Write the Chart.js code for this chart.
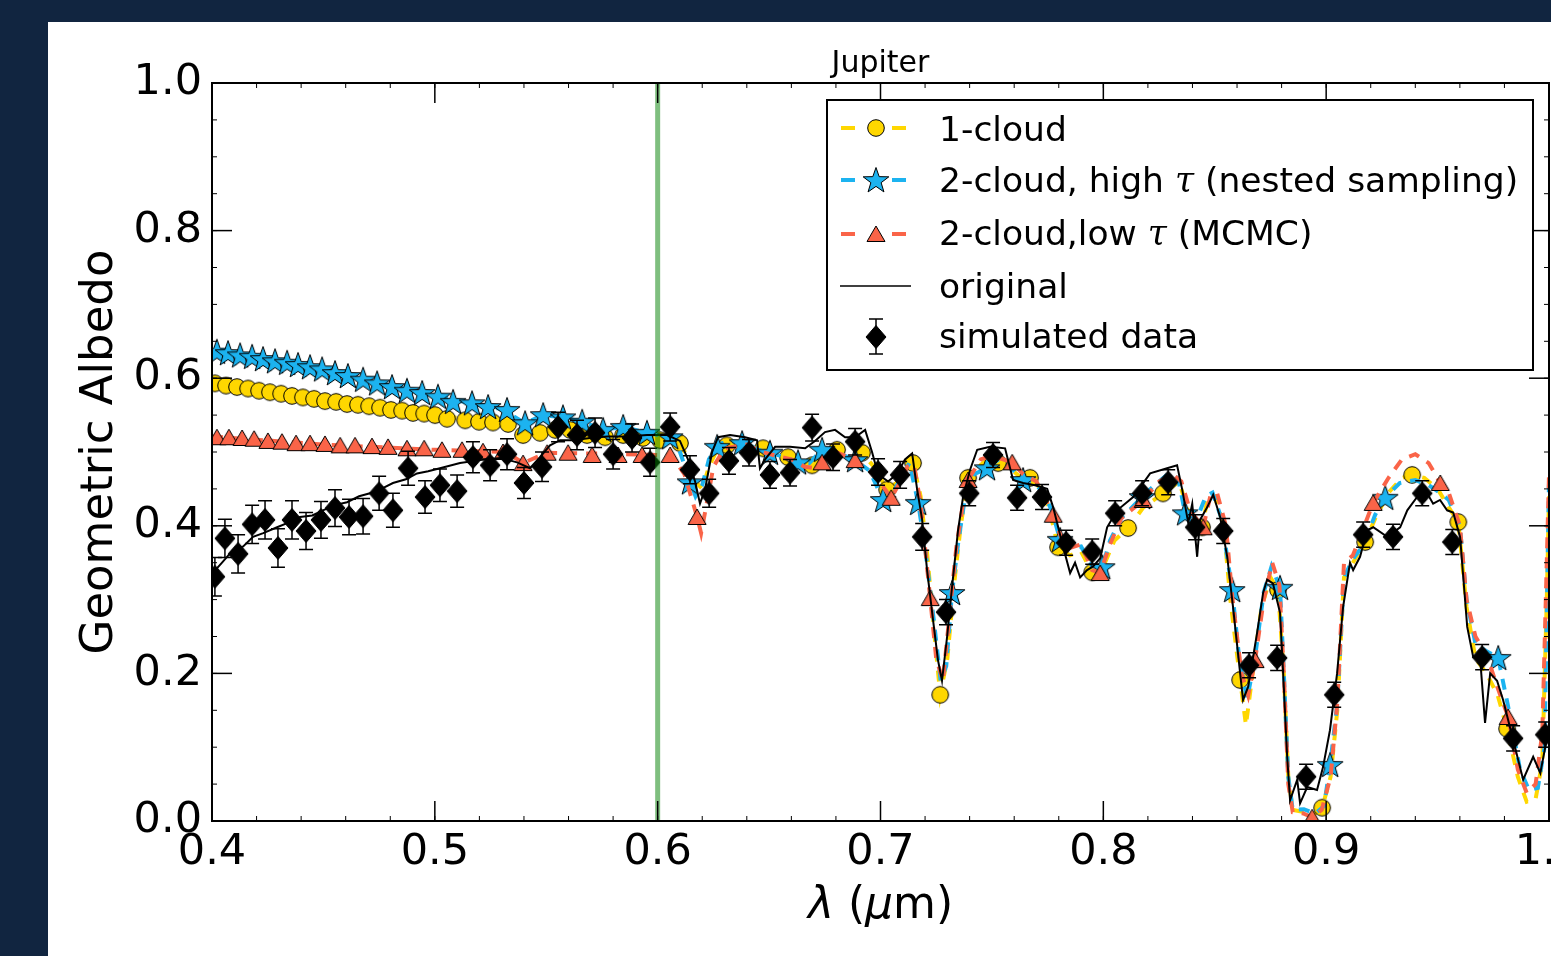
<!DOCTYPE html>
<html>
<head>
<meta charset="utf-8">
<title>Jupiter geometric albedo</title>
<script src="https://cdn.jsdelivr.net/npm/chart.js@4.4.1/dist/chart.umd.min.js"></script>
<style>
  html, body { margin: 0; padding: 0; background: #112540; overflow: hidden; }
  #panel { position: absolute; left: 48px; top: 22px; width: 1560px; height: 934px; background: #fff; }
  canvas { display: block; }
</style>
</head>
<body>
<div id="panel"><canvas id="albedoChart" width="1560" height="934"></canvas></div>
<script>
// ---- data ----------------------------------------------------------------
const xTickValues = [0.4, 0.5, 0.6, 0.7, 0.8, 0.9, 1.0];
const yTickValues = [0.0, 0.2, 0.4, 0.6, 0.8, 1.0];
const markerWave = 0.6;   // green reference line

// original high resolution spectrum [wavelength, albedo]
const originalSpectrum = [
  [0.4, 0.335], [0.4045, 0.35], [0.4094, 0.367], [0.414, 0.372], [0.4184, 0.385], [0.423, 0.39],
  [0.4292, 0.398], [0.434, 0.404], [0.4395, 0.412], [0.445, 0.414], [0.4498, 0.421], [0.455, 0.428],
  [0.4606, 0.432], [0.466, 0.44], [0.4709, 0.444], [0.476, 0.45], [0.4812, 0.458], [0.487, 0.463],
  [0.492, 0.471], [0.497, 0.474], [0.5023, 0.478], [0.5113, 0.485], [0.5203, 0.489], [0.5293, 0.492],
  [0.5369, 0.486], [0.5427, 0.478], [0.5472, 0.493], [0.5517, 0.509], [0.5562, 0.516], [0.562, 0.516],
  [0.5697, 0.519], [0.5773, 0.521], [0.5863, 0.521], [0.5952, 0.523], [0.6042, 0.523], [0.61, 0.515],
  [0.6136, 0.49], [0.6168, 0.46], [0.619, 0.43], [0.6213, 0.45], [0.6244, 0.5], [0.6271, 0.52],
  [0.6325, 0.523], [0.6392, 0.52], [0.6446, 0.516], [0.6459, 0.478], [0.6482, 0.49], [0.6527, 0.507],
  [0.6594, 0.507], [0.6662, 0.505], [0.6706, 0.515], [0.6751, 0.527], [0.6796, 0.53], [0.6841, 0.52],
  [0.6886, 0.52], [0.6931, 0.53], [0.6962, 0.5], [0.6989, 0.47], [0.7034, 0.46], [0.7074, 0.47],
  [0.711, 0.49], [0.7142, 0.498], [0.7164, 0.45], [0.7187, 0.408], [0.7209, 0.34], [0.7236, 0.272],
  [0.7258, 0.218], [0.7276, 0.19], [0.7299, 0.25], [0.7321, 0.317], [0.7348, 0.394], [0.7371, 0.44],
  [0.7402, 0.476], [0.7434, 0.503], [0.7492, 0.507], [0.7559, 0.505], [0.7595, 0.462], [0.764, 0.458],
  [0.7694, 0.455], [0.7748, 0.45], [0.7775, 0.425], [0.782, 0.371], [0.7851, 0.336], [0.7873, 0.35],
  [0.7896, 0.33], [0.7927, 0.34], [0.7954, 0.345], [0.7986, 0.356], [0.8017, 0.398], [0.8062, 0.421],
  [0.8134, 0.439], [0.821, 0.471], [0.8286, 0.478], [0.8331, 0.482], [0.8354, 0.449], [0.8381, 0.404],
  [0.8399, 0.43], [0.8421, 0.358], [0.8434, 0.408], [0.8466, 0.425], [0.8493, 0.442], [0.8524, 0.412],
  [0.8556, 0.358], [0.8582, 0.29], [0.8614, 0.2], [0.8627, 0.164], [0.865, 0.182], [0.869, 0.255],
  [0.8717, 0.309], [0.8735, 0.327], [0.8761, 0.322], [0.8793, 0.282], [0.8807, 0.2], [0.8825, 0.087],
  [0.8838, 0.028], [0.887, 0.056], [0.8883, 0.024], [0.8915, 0.046], [0.8959, 0.042], [0.8986, 0.073],
  [0.9017, 0.123], [0.9049, 0.2], [0.9076, 0.29], [0.9107, 0.35], [0.9121, 0.34], [0.9152, 0.358],
  [0.9184, 0.394], [0.9211, 0.398], [0.9274, 0.385], [0.9332, 0.398], [0.9364, 0.421], [0.9408, 0.439],
  [0.9453, 0.444], [0.948, 0.43], [0.9511, 0.435], [0.9543, 0.421], [0.957, 0.418], [0.9601, 0.385],
  [0.9633, 0.263], [0.966, 0.222], [0.9691, 0.22], [0.9713, 0.133], [0.9736, 0.2], [0.9767, 0.19],
  [0.9794, 0.164], [0.9839, 0.11], [0.9884, 0.056], [0.9929, 0.087], [0.9961, 0.065], [0.9992, 0.114]
];

// simulated observations [wavelength, albedo, 1-sigma error]
const simulatedData = [
  [0.4013, 0.331, 0.026], [0.4058, 0.383, 0.026], [0.4117, 0.362, 0.026], [0.418, 0.402, 0.026],
  [0.4238, 0.408, 0.026], [0.4296, 0.370, 0.026], [0.4359, 0.408, 0.026], [0.4422, 0.393, 0.025],
  [0.4489, 0.408, 0.025], [0.4552, 0.424, 0.025], [0.4615, 0.412, 0.024], [0.4678, 0.413, 0.024],
  [0.475, 0.444, 0.023], [0.4812, 0.421, 0.023], [0.488, 0.478, 0.023], [0.4956, 0.439, 0.022],
  [0.5023, 0.455, 0.022], [0.51, 0.447, 0.022], [0.5171, 0.493, 0.021], [0.5248, 0.482, 0.021],
  [0.5324, 0.497, 0.021], [0.54, 0.458, 0.021], [0.5481, 0.48, 0.02], [0.5553, 0.534, 0.02],
  [0.5638, 0.523, 0.02], [0.5719, 0.526, 0.02], [0.58, 0.497, 0.02], [0.5885, 0.519, 0.019],
  [0.5966, 0.486, 0.019], [0.6056, 0.534, 0.019], [0.6145, 0.476, 0.019], [0.6231, 0.444, 0.019],
  [0.632, 0.488, 0.018], [0.641, 0.499, 0.018], [0.6504, 0.469, 0.018], [0.6594, 0.472, 0.018],
  [0.6693, 0.533, 0.018], [0.6787, 0.493, 0.018], [0.6886, 0.514, 0.018], [0.6989, 0.473, 0.018],
  [0.7088, 0.469, 0.018], [0.7187, 0.385, 0.018], [0.7294, 0.283, 0.017], [0.7398, 0.444, 0.017],
  [0.7505, 0.496, 0.017], [0.7613, 0.438, 0.017], [0.7725, 0.439, 0.017], [0.7833, 0.377, 0.017],
  [0.795, 0.365, 0.017], [0.8053, 0.417, 0.017], [0.8174, 0.444, 0.017], [0.8291, 0.459, 0.017],
  [0.8412, 0.398, 0.017], [0.8538, 0.393, 0.017], [0.8654, 0.211, 0.017], [0.878, 0.221, 0.017],
  [0.891, 0.06, 0.017], [0.9036, 0.171, 0.017], [0.9166, 0.388, 0.017], [0.93, 0.385, 0.017],
  [0.9431, 0.444, 0.017], [0.9566, 0.378, 0.017], [0.97, 0.222, 0.017], [0.9839, 0.112, 0.017],
  [0.9983, 0.117, 0.017]
];

// 1-cloud retrieval: model curve and its plotted points
const oneCloudLine = [
  [0.4, 0.594], [0.45, 0.571], [0.5, 0.55], [0.5329, 0.538], [0.5396, 0.523], [0.5472, 0.526],
  [0.5607, 0.53], [0.5683, 0.523], [0.5764, 0.52], [0.5845, 0.523], [0.5934, 0.519], [0.6011, 0.516],
  [0.61, 0.512], [0.614, 0.49], [0.617, 0.46], [0.62, 0.45], [0.623, 0.48], [0.627, 0.505],
  [0.6311, 0.509], [0.64, 0.508], [0.6473, 0.505], [0.653, 0.498], [0.6585, 0.493], [0.6693, 0.482],
  [0.675, 0.495], [0.6805, 0.503], [0.6917, 0.499], [0.697, 0.48], [0.703, 0.449], [0.708, 0.46],
  [0.712, 0.48], [0.7146, 0.485], [0.718, 0.44], [0.721, 0.36], [0.724, 0.26], [0.7268, 0.171],
  [0.73, 0.22], [0.733, 0.32], [0.736, 0.4], [0.7393, 0.465], [0.744, 0.48], [0.748, 0.49],
  [0.7528, 0.485], [0.758, 0.478], [0.762, 0.468], [0.7671, 0.465], [0.772, 0.45], [0.776, 0.42],
  [0.7797, 0.371], [0.785, 0.36], [0.79, 0.365], [0.795, 0.337], [0.8, 0.345], [0.805, 0.38],
  [0.8111, 0.397], [0.818, 0.425], [0.8268, 0.444], [0.834, 0.46], [0.838, 0.42], [0.8443, 0.398],
  [0.847, 0.44], [0.85, 0.44], [0.854, 0.4], [0.857, 0.3], [0.8614, 0.191], [0.864, 0.13],
  [0.867, 0.2], [0.871, 0.29], [0.875, 0.33], [0.8784, 0.313], [0.881, 0.2], [0.883, 0.06],
  [0.885, 0.015], [0.89, 0.012], [0.895, 0.01], [0.8982, 0.018], [0.902, 0.06], [0.905, 0.15],
  [0.908, 0.33], [0.912, 0.35], [0.9175, 0.378], [0.922, 0.41], [0.928, 0.445], [0.934, 0.465],
  [0.9386, 0.469], [0.944, 0.465], [0.95, 0.45], [0.955, 0.425], [0.9593, 0.405], [0.963, 0.29],
  [0.967, 0.22], [0.972, 0.2], [0.977, 0.17], [0.9812, 0.125], [0.986, 0.06], [0.99, 0.026],
  [0.994, 0.03], [0.997, 0.08], [0.999, 0.3], [1.0, 0.44]
];
const oneCloudPoints = [
  [0.4013, 0.593], [0.4063, 0.59], [0.4112, 0.588], [0.4162, 0.586], [0.4211, 0.583], [0.426, 0.581],
  [0.431, 0.579], [0.4359, 0.576], [0.4408, 0.574], [0.4458, 0.572], [0.4507, 0.569], [0.4557, 0.568],
  [0.4606, 0.565], [0.4655, 0.564], [0.4705, 0.562], [0.4754, 0.56], [0.4803, 0.557], [0.4853, 0.556],
  [0.4902, 0.553], [0.4952, 0.552], [0.5001, 0.55], [0.5055, 0.545], [0.5136, 0.543], [0.5198, 0.541],
  [0.5261, 0.54], [0.5329, 0.538], [0.5396, 0.523], [0.5472, 0.526], [0.554, 0.53], [0.5607, 0.53],
  [0.5683, 0.523], [0.5764, 0.52], [0.5845, 0.523], [0.5934, 0.519], [0.6011, 0.516], [0.61, 0.512],
  [0.6311, 0.509], [0.6473, 0.505], [0.6585, 0.493], [0.6693, 0.482], [0.6805, 0.503], [0.6917, 0.499],
  [0.703, 0.449], [0.7146, 0.485], [0.7268, 0.171], [0.7393, 0.465], [0.7528, 0.485], [0.7671, 0.465],
  [0.7797, 0.371], [0.795, 0.337], [0.8111, 0.397], [0.8268, 0.444], [0.8443, 0.398], [0.8614, 0.191],
  [0.8784, 0.313], [0.8982, 0.018], [0.9175, 0.378], [0.9386, 0.469], [0.9593, 0.405], [0.9812, 0.125]
];

// 2-cloud, high tau (nested sampling)
const highTauLine = [
  [0.4, 0.638], [0.45, 0.612], [0.5, 0.576], [0.53, 0.558], [0.5405, 0.539], [0.5486, 0.55],
  [0.5575, 0.547], [0.5661, 0.541], [0.5755, 0.53], [0.5845, 0.534], [0.5952, 0.526], [0.6056, 0.52],
  [0.61, 0.5], [0.614, 0.465], [0.617, 0.44], [0.62, 0.455], [0.623, 0.49], [0.627, 0.51],
  [0.632, 0.515], [0.64, 0.512], [0.645, 0.503], [0.6504, 0.499], [0.656, 0.494], [0.663, 0.486],
  [0.668, 0.485], [0.6738, 0.503], [0.68, 0.5], [0.6886, 0.489], [0.695, 0.475], [0.7012, 0.435],
  [0.705, 0.44], [0.709, 0.465], [0.713, 0.485], [0.7169, 0.431], [0.72, 0.37], [0.724, 0.27],
  [0.727, 0.19], [0.7295, 0.21], [0.7321, 0.309], [0.735, 0.38], [0.738, 0.44], [0.742, 0.47],
  [0.7478, 0.478], [0.753, 0.49], [0.758, 0.48], [0.764, 0.462], [0.769, 0.458], [0.773, 0.445],
  [0.777, 0.42], [0.7806, 0.381], [0.785, 0.37], [0.79, 0.372], [0.795, 0.345], [0.7995, 0.344],
  [0.803, 0.38], [0.808, 0.41], [0.8174, 0.439], [0.823, 0.455], [0.829, 0.47], [0.8335, 0.465],
  [0.8367, 0.417], [0.842, 0.41], [0.846, 0.44], [0.849, 0.445], [0.853, 0.41], [0.8578, 0.313],
  [0.861, 0.22], [0.8645, 0.165], [0.868, 0.22], [0.872, 0.31], [0.8755, 0.345], [0.8793, 0.316],
  [0.881, 0.2], [0.883, 0.06], [0.885, 0.015], [0.89, 0.016], [0.895, 0.01], [0.899, 0.02],
  [0.9018, 0.076], [0.905, 0.16], [0.908, 0.33], [0.912, 0.355], [0.917, 0.375], [0.922, 0.415],
  [0.9265, 0.438], [0.933, 0.458], [0.94, 0.462], [0.946, 0.455], [0.951, 0.445], [0.955, 0.435],
  [0.96, 0.4], [0.963, 0.3], [0.967, 0.24], [0.972, 0.23], [0.9772, 0.221], [0.982, 0.15],
  [0.987, 0.07], [0.991, 0.042], [0.995, 0.045], [0.998, 0.1], [1.0, 0.46]
];
const highTauPoints = [
  [0.4022, 0.636], [0.4072, 0.634], [0.4126, 0.631], [0.418, 0.629], [0.4229, 0.626], [0.4283, 0.623],
  [0.4337, 0.621], [0.4386, 0.618], [0.444, 0.615], [0.4494, 0.612], [0.4552, 0.607], [0.461, 0.603],
  [0.4678, 0.598], [0.4741, 0.593], [0.4808, 0.588], [0.4875, 0.583], [0.4943, 0.58], [0.5014, 0.575],
  [0.5082, 0.568], [0.5167, 0.566], [0.5239, 0.561], [0.5324, 0.557], [0.5405, 0.539], [0.5486, 0.55],
  [0.5575, 0.547], [0.5661, 0.541], [0.5755, 0.53], [0.5845, 0.534], [0.5952, 0.526], [0.6056, 0.52],
  [0.6145, 0.459], [0.6267, 0.507], [0.6379, 0.512], [0.6504, 0.499], [0.663, 0.486], [0.6738, 0.503],
  [0.6886, 0.489], [0.7012, 0.435], [0.7169, 0.431], [0.7321, 0.309], [0.7478, 0.478], [0.764, 0.462],
  [0.7806, 0.381], [0.7995, 0.344], [0.8174, 0.439], [0.8367, 0.417], [0.8578, 0.313], [0.8793, 0.316],
  [0.9018, 0.076], [0.9265, 0.438], [0.9772, 0.221]
];

// 2-cloud, low tau (MCMC)
const lowTauLine = [
  [0.4, 0.521], [0.45, 0.51], [0.5, 0.503], [0.532, 0.5], [0.5396, 0.485], [0.5504, 0.499],
  [0.57, 0.498], [0.6, 0.496], [0.606, 0.496], [0.612, 0.47], [0.6177, 0.412], [0.6195, 0.39],
  [0.622, 0.43], [0.625, 0.48], [0.63, 0.505], [0.64, 0.51], [0.647, 0.5], [0.653, 0.495],
  [0.66, 0.49], [0.666, 0.48], [0.671, 0.478], [0.6738, 0.486], [0.68, 0.5], [0.6886, 0.489],
  [0.697, 0.47], [0.7048, 0.438], [0.708, 0.455], [0.712, 0.48], [0.715, 0.483], [0.718, 0.43],
  [0.7223, 0.302], [0.725, 0.22], [0.728, 0.19], [0.731, 0.28], [0.734, 0.37], [0.737, 0.43],
  [0.7393, 0.462], [0.745, 0.49], [0.75, 0.495], [0.7591, 0.486], [0.764, 0.47], [0.77, 0.46],
  [0.7775, 0.415], [0.781, 0.385], [0.785, 0.37], [0.79, 0.375], [0.795, 0.34], [0.7986, 0.336],
  [0.803, 0.375], [0.808, 0.41], [0.8179, 0.435], [0.825, 0.46], [0.831, 0.47], [0.835, 0.46],
  [0.839, 0.42], [0.8448, 0.398], [0.848, 0.44], [0.851, 0.445], [0.855, 0.4], [0.858, 0.3],
  [0.862, 0.2], [0.865, 0.17], [0.8681, 0.218], [0.872, 0.3], [0.8758, 0.35], [0.879, 0.32],
  [0.881, 0.2], [0.883, 0.05], [0.885, 0.012], [0.89, 0.01], [0.8937, 0.005], [0.898, 0.015],
  [0.902, 0.06], [0.905, 0.16], [0.908, 0.35], [0.912, 0.36], [0.9211, 0.431], [0.928, 0.465],
  [0.934, 0.49], [0.94, 0.497], [0.946, 0.485], [0.9512, 0.458], [0.955, 0.445], [0.96, 0.4],
  [0.963, 0.3], [0.967, 0.25], [0.972, 0.225], [0.977, 0.18], [0.9817, 0.141], [0.986, 0.07],
  [0.99, 0.038], [0.994, 0.05], [0.997, 0.12], [0.999, 0.35], [1.0, 0.47]
];
const lowTauPoints = [
  [0.4022, 0.52], [0.4076, 0.52], [0.4135, 0.519], [0.4189, 0.518], [0.4251, 0.515], [0.4314, 0.514],
  [0.4377, 0.512], [0.444, 0.512], [0.4507, 0.511], [0.4575, 0.509], [0.4642, 0.509], [0.4718, 0.508],
  [0.479, 0.507], [0.4875, 0.505], [0.4952, 0.505], [0.5032, 0.503], [0.5122, 0.503], [0.5216, 0.501],
  [0.5306, 0.5], [0.5396, 0.485], [0.5504, 0.499], [0.5598, 0.499], [0.5706, 0.496], [0.5822, 0.496],
  [0.593, 0.496], [0.6056, 0.496], [0.6177, 0.412], [0.6738, 0.486], [0.6886, 0.489], [0.7048, 0.438],
  [0.7223, 0.302], [0.7393, 0.462], [0.7591, 0.486], [0.7775, 0.415], [0.7986, 0.336], [0.8179, 0.435],
  [0.8448, 0.398], [0.8681, 0.218], [0.8937, 0.005], [0.9211, 0.431], [0.9512, 0.458], [0.9817, 0.141]
];

// ---- styling ---------------------------------------------------------------
const YELLOW = '#ffd700';
const BLUE = '#1cb3f0';
const RED = '#fa6448';
const FONT = '"DejaVu Sans"';

// marker sprites, filled with a thin black edge
function sprite(w, h, fill, path) {
  const c = document.createElement('canvas');
  c.width = w;
  c.height = h;
  const g = c.getContext('2d');
  g.translate(w / 2, h / 2);
  g.beginPath();
  path(g);
  g.closePath();
  g.fillStyle = fill;
  g.fill();
  g.lineWidth = 1;
  g.strokeStyle = '#000';
  g.stroke();
  return c;
}

const circleMark = sprite(20, 20, YELLOW, g => g.arc(0, 0, 8.3, 0, Math.PI * 2));
const starMark = sprite(30, 30, BLUE, g => {
  for (let i = 0; i < 10; i++) {
    const r = i % 2 ? 5.4 : 13.5;
    const t = -Math.PI / 2 + i * Math.PI / 5;
    g.lineTo(r * Math.cos(t), r * Math.sin(t) + 1);
  }
});
const triangleMark = sprite(22, 20, RED, g => {
  g.moveTo(0, -8);
  g.lineTo(9, 7.5);
  g.lineTo(-9, 7.5);
});
const diamondMark = sprite(24, 26, '#000', g => {
  g.moveTo(0, -11.5);
  g.lineTo(10, 0);
  g.lineTo(0, 11.5);
  g.lineTo(-10, 0);
});

const toXY = rows => rows.map(r => ({ x: r[0], y: r[1] }));

function dashedLine(rows, color, offset, order) {
  return {
    data: toXY(rows),
    showLine: true,
    borderColor: color,
    borderWidth: 4,
    borderDash: [11, 9],
    borderDashOffset: offset,
    pointRadius: 0,
    tension: 0,
    clip: 0,
    order: order
  };
}

function markers(rows, mark, order) {
  return {
    data: toXY(rows),
    showLine: false,
    pointStyle: mark,
    pointRadius: 6,
    clip: 0,
    order: order
  };
}

// ---- decorations drawn on top of the library scales ----------------------
function tickMarks(ctx, a, x, y) {
  ctx.strokeStyle = '#000';
  const minorX = [];
  for (let v = 0.42; v < 1.0; v += 0.02) minorX.push(v);
  const minorY = [];
  for (let v = 0.05; v < 1.0; v += 0.05) minorY.push(v);

  const seg = (x1, y1, x2, y2) => {
    ctx.beginPath();
    ctx.moveTo(x1, y1);
    ctx.lineTo(x2, y2);
    ctx.stroke();
  };
  ctx.lineWidth = 1;
  minorX.forEach(v => {
    const px = x.getPixelForValue(v);
    seg(px, a.bottom, px, a.bottom - 5);
    seg(px, a.top, px, a.top + 5);
  });
  minorY.forEach(v => {
    const py = y.getPixelForValue(v);
    seg(a.left, py, a.left + 5, py);
    seg(a.right, py, a.right - 5, py);
  });
  ctx.lineWidth = 1.5;
  xTickValues.forEach(v => {
    const px = x.getPixelForValue(v);
    seg(px, a.bottom, px, a.bottom - 20);
    seg(px, a.top, px, a.top + 20);
  });
  yTickValues.forEach(v => {
    const py = y.getPixelForValue(v);
    seg(a.left, py, a.left + 20, py);
    seg(a.right, py, a.right - 20, py);
  });
  ctx.lineWidth = 2;
  ctx.strokeRect(a.left, a.top, a.width, a.height);
}

// draws text made of runs with different fonts, starting at x0
function drawRuns(ctx, runs, x0, y0, centred) {
  let total = 0;
  runs.forEach(r => {
    ctx.font = r.font;
    r.w = ctx.measureText(r.text).width;
    total += r.w;
  });
  let cx = centred ? x0 - total / 2 : x0;
  ctx.textAlign = 'left';
  ctx.textBaseline = 'alphabetic';
  runs.forEach(r => {
    ctx.font = r.font;
    ctx.fillText(r.text, cx, y0);
    cx += r.w;
  });
}

function drawLegend(ctx, a) {
  const w = 706, h = 270;
  const left = a.right - 16 - w, top = a.top + 17;
  ctx.fillStyle = '#fff';
  ctx.fillRect(left, top, w, h);
  ctx.strokeStyle = '#000';
  ctx.lineWidth = 2;
  ctx.strokeRect(left, top, w, h);

  const mx = left + 49, tx = left + 112;
  const txt = '34.5px ' + FONT, tau = 'italic 34.5px "DejaVu Serif"';
  const rows = [
    { my: 28, ty: 41, color: YELLOW, mark: circleMark, runs: [{ text: '1-cloud', font: txt }] },
    { my: 80, ty: 92, color: BLUE, mark: starMark,
      runs: [{ text: '2-cloud, high ', font: txt }, { text: 'τ', font: tau }, { text: ' (nested sampling)', font: txt }] },
    { my: 134, ty: 145, color: RED, mark: triangleMark,
      runs: [{ text: '2-cloud,low ', font: txt }, { text: 'τ', font: tau }, { text: ' (MCMC)', font: txt }] },
    { my: 186, ty: 198, line: true, runs: [{ text: 'original', font: txt }] },
    { my: 237, ty: 248, errbar: true, mark: diamondMark, runs: [{ text: 'simulated data', font: txt }] }
  ];
  rows.forEach(r => {
    const cy = top + r.my;
    if (r.color) {
      ctx.strokeStyle = r.color;
      ctx.lineWidth = 4;
      ctx.beginPath();
      ctx.moveTo(mx - 35, cy); ctx.lineTo(mx - 21, cy);
      ctx.moveTo(mx + 16, cy); ctx.lineTo(mx + 30, cy);
      ctx.stroke();
    }
    if (r.line) {
      ctx.strokeStyle = '#000';
      ctx.lineWidth = 1.5;
      ctx.beginPath();
      ctx.moveTo(mx - 36, cy); ctx.lineTo(mx + 35, cy);
      ctx.stroke();
    }
    if (r.errbar) {
      ctx.strokeStyle = '#000';
      ctx.lineWidth = 1.5;
      ctx.beginPath();
      ctx.moveTo(mx, cy - 18); ctx.lineTo(mx, cy + 17);
      ctx.moveTo(mx - 7, cy - 18); ctx.lineTo(mx + 7, cy - 18);
      ctx.moveTo(mx - 7, cy + 17); ctx.lineTo(mx + 7, cy + 17);
      ctx.stroke();
    }
    if (r.mark) ctx.drawImage(r.mark, mx - r.mark.width / 2, cy - r.mark.height / 2);
    ctx.fillStyle = '#000';
    drawRuns(ctx, r.runs, tx, top + r.ty, false);
  });
}

const plotDecor = {
  id: 'plotDecor',
  afterDatasetsDraw(chart) {
    const { ctx, chartArea: a, scales: { x, y } } = chart;
    ctx.save();
    ctx.beginPath();
    ctx.rect(a.left, a.top, a.width, a.height);
    ctx.clip();
    // error bars of the simulated data
    ctx.strokeStyle = '#000';
    ctx.lineWidth = 1.5;
    simulatedData.forEach(([w, v, e]) => {
      const px = x.getPixelForValue(w);
      const hi = y.getPixelForValue(v + e);
      const lo = y.getPixelForValue(v - e);
      ctx.beginPath();
      ctx.moveTo(px, hi); ctx.lineTo(px, lo);
      ctx.moveTo(px - 7, hi); ctx.lineTo(px + 7, hi);
      ctx.moveTo(px - 7, lo); ctx.lineTo(px + 7, lo);
      ctx.stroke();
    });
    // vertical reference line
    const gx = x.getPixelForValue(markerWave);
    ctx.strokeStyle = 'rgba(0, 128, 0, 0.5)';
    ctx.lineWidth = 5;
    ctx.beginPath();
    ctx.moveTo(gx, a.top);
    ctx.lineTo(gx, a.bottom);
    ctx.stroke();
    ctx.restore();
  },
  afterDraw(chart) {
    const { ctx, chartArea: a, scales: { x, y } } = chart;
    ctx.save();
    tickMarks(ctx, a, x, y);
    drawLegend(ctx, a);

    ctx.fillStyle = '#000';
    const midX = (a.left + a.right) / 2;
    drawRuns(ctx, [{ text: 'Jupiter', font: '30px ' + FONT }], midX, a.top - 11, true);
    drawRuns(ctx, [
      { text: 'λ', font: 'italic 44px ' + FONT },
      { text: ' (', font: '44px ' + FONT },
      { text: 'μ', font: 'italic 44px ' + FONT },
      { text: 'm)', font: '44px ' + FONT }
    ], midX, a.bottom + 97, true);

    ctx.translate(a.left - 100, (a.top + a.bottom) / 2);
    ctx.rotate(-Math.PI / 2);
    drawRuns(ctx, [{ text: 'Geometric Albedo', font: '45px ' + FONT }], 0, 0, true);
    ctx.restore();
  }
};

// ---- chart -----------------------------------------------------------------
const tickFont = { family: 'DejaVu Sans', size: 43 };

new Chart(document.getElementById('albedoChart'), {
  type: 'scatter',
  data: {
    datasets: [
      markers(simulatedData, diamondMark, 0),
      {
        data: toXY(originalSpectrum),
        showLine: true,
        borderColor: '#000',
        borderWidth: 2,
        pointRadius: 0,
        tension: 0,
        clip: 0,
        order: 1
      },
      markers(lowTauPoints, triangleMark, 2),
      dashedLine(lowTauLine, RED, 0, 3),
      markers(highTauPoints, starMark, 4),
      dashedLine(highTauLine, BLUE, 10, 5),
      markers(oneCloudPoints, circleMark, 6),
      dashedLine(oneCloudLine, YELLOW, 4, 7)
    ]
  },
  options: {
    responsive: false,
    animation: false,
    devicePixelRatio: 1,
    events: [],
    layout: { padding: { left: 0, top: 61, right: 59, bottom: 0 } },
    plugins: {
      legend: { display: false },
      tooltip: { enabled: false },
      title: { display: false }
    },
    scales: {
      x: {
        type: 'linear',
        min: 0.4,
        max: 1.0,
        afterBuildTicks: s => { s.ticks = xTickValues.map(v => ({ value: v })); },
        afterFit: s => { s.height = 135; },
        grid: { display: false, drawTicks: false },
        border: { display: false },
        ticks: {
          font: tickFont,
          color: '#000',
          padding: 6,
          maxRotation: 0,
          autoSkip: false,
          callback: v => Number(v).toFixed(1)
        }
      },
      y: {
        type: 'linear',
        min: 0,
        max: 1,
        afterBuildTicks: s => { s.ticks = yTickValues.map(v => ({ value: v })); },
        afterFit: s => { s.width = 164; },
        grid: { display: false, drawTicks: false },
        border: { display: false },
        ticks: {
          font: tickFont,
          color: '#000',
          padding: 10,
          autoSkip: false,
          callback: v => Number(v).toFixed(1)
        }
      }
    }
  },
  plugins: [plotDecor]
});
</script>
</body>
</html>
